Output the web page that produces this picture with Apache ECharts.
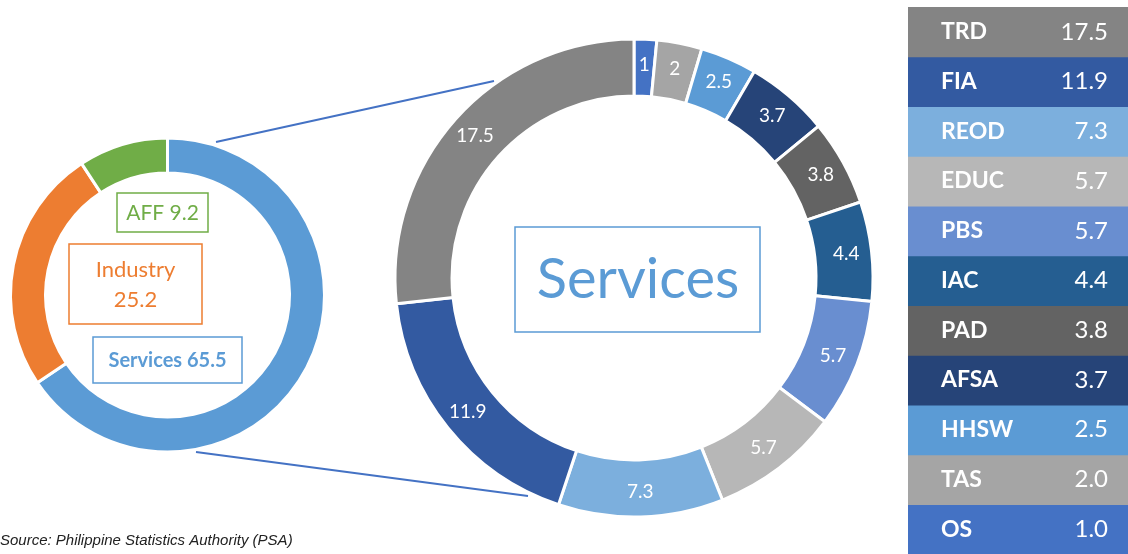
<!DOCTYPE html>
<html>
<head>
<meta charset="utf-8">
<script src="https://cdn.jsdelivr.net/npm/echarts@6/dist/echarts.min.js"></script>
<style>
  html, body { margin: 0; padding: 0; background: #fff; }
  #chart { width: 1128px; height: 554px; }
</style>
</head>
<body>
<div id="chart"></div>
<script>
// main sectors (left ring)
const sectors = ['Services', 'Industry', 'AFF'];
const sectorShares = [65.5, 25.2, 9.2];
const sectorColors = ['#5B9BD5', '#ED7D31', '#70AD47'];

// services breakdown, clockwise from the top
const svcCodes = ['OS', 'TAS', 'HHSW', 'AFSA', 'PAD', 'IAC', 'PBS', 'EDUC', 'REOD', 'FIA', 'TRD'];
const svcShares = [1.0, 2.0, 2.5, 3.7, 3.8, 4.4, 5.7, 5.7, 7.3, 11.9, 17.5];
const svcColors = ['#4472C4', '#A5A5A5', '#5B9BD5', '#264478', '#636363', '#255E91',
  '#698ED0', '#B7B7B7', '#7CAFDD', '#335AA1', '#848484'];

const FONT = 'Lato, "Open Sans", sans-serif';

const chart = echarts.init(document.getElementById('chart'));

chart.setOption({
  animation: false,
  grid: { left: 908, right: 0, top: 7, bottom: 0 },
  xAxis: { type: 'value', min: 0, max: 1, show: false },
  yAxis: {
    type: 'category',
    data: svcCodes,          // OS at the bottom, TRD on top
    z: 10,
    axisLine: { show: false },
    axisTick: { show: false },
    axisLabel: {
      inside: true,
      margin: 33,
      color: '#fff',
      fontFamily: FONT,
      fontWeight: 'bold',
      fontSize: 23,
      padding: [4, 0, 0, 0],
    },
  },
  graphic: [
    // connector lines
    { type: 'line', shape: { x1: 216, y1: 142, x2: 494, y2: 81 }, style: { stroke: '#4472C4', lineWidth: 2 } },
    { type: 'line', shape: { x1: 196, y1: 452, x2: 528, y2: 496 }, style: { stroke: '#4472C4', lineWidth: 2 } },
    // left ring boxes
    { type: 'rect', shape: { x: 117, y: 193, width: 91, height: 39 }, style: { fill: '#fff', stroke: sectorColors[2], lineWidth: 1.5 } },
    { type: 'text', style: { text: sectors[2] + ' ' + sectorShares[2], x: 162.5, y: 213, align: 'center', verticalAlign: 'middle', fill: sectorColors[2], font: '21px ' + FONT } },
    { type: 'rect', shape: { x: 69, y: 244, width: 133, height: 80 }, style: { fill: '#fff', stroke: sectorColors[1], lineWidth: 1.5 } },
    { type: 'text', style: { text: sectors[1] + '\n' + sectorShares[1], x: 135.5, y: 285, align: 'center', verticalAlign: 'middle', lineHeight: 30, fill: sectorColors[1], font: '22px ' + FONT } },
    { type: 'rect', shape: { x: 93, y: 337, width: 149, height: 46 }, style: { fill: '#fff', stroke: sectorColors[0], lineWidth: 1.5 } },
    { type: 'text', style: { text: sectors[0] + ' ' + sectorShares[0], x: 167.5, y: 361, align: 'center', verticalAlign: 'middle', fill: sectorColors[0], font: 'bold 20px ' + FONT } },
    // centre box of the big ring
    { type: 'rect', shape: { x: 515, y: 227, width: 245, height: 105 }, style: { fill: '#fff', stroke: '#5B9BD5', lineWidth: 1.5 } },
    { type: 'text', style: { text: sectors[0], x: 638, y: 280, align: 'center', verticalAlign: 'middle', fill: '#5B9BD5', font: '56px ' + FONT } },
    // source note
    { type: 'text', style: { text: 'Source: Philippine Statistics Authority (PSA)', x: 0, y: 541, verticalAlign: 'middle', fill: '#222', font: 'italic 15px "Liberation Sans", Arial, sans-serif' } },
  ],
  series: [
    {
      type: 'pie',
      center: [167.5, 295],
      radius: [122, 157],
      startAngle: 90,
      label: { show: false },
      labelLine: { show: false },
      itemStyle: { borderColor: '#fff', borderWidth: 3 },
      data: sectors.map((n, i) => ({ name: n, value: sectorShares[i], itemStyle: { color: sectorColors[i] } })),
    },
    {
      type: 'pie',
      center: [634, 278],
      radius: [182, 239],
      startAngle: 90,
      label: {
        show: true,
        position: 'inside',
        formatter: '{c}',
        color: '#fff',
        fontFamily: FONT,
        fontSize: 19,
      },
      labelLine: { show: false },
      itemStyle: { borderColor: '#fff', borderWidth: 3 },
      data: svcCodes.map((n, i) => ({ name: n, value: svcShares[i], itemStyle: { color: svcColors[i] } })),
    },
    {
      type: 'bar',
      barWidth: 51,   // slight overlap so rows meet without seams
      label: {
        show: true,
        position: 'insideRight',
        distance: 20,
        color: '#fff',
        fontFamily: FONT,
        fontSize: 24,
        padding: [4, 0, 0, 0],
        formatter: p => svcShares[p.dataIndex].toFixed(1),
      },
      data: svcCodes.map((n, i) => ({
        value: 1,
        itemStyle: { color: svcColors[i] },
      })),
    },
  ],
});
</script>
</body>
</html>
